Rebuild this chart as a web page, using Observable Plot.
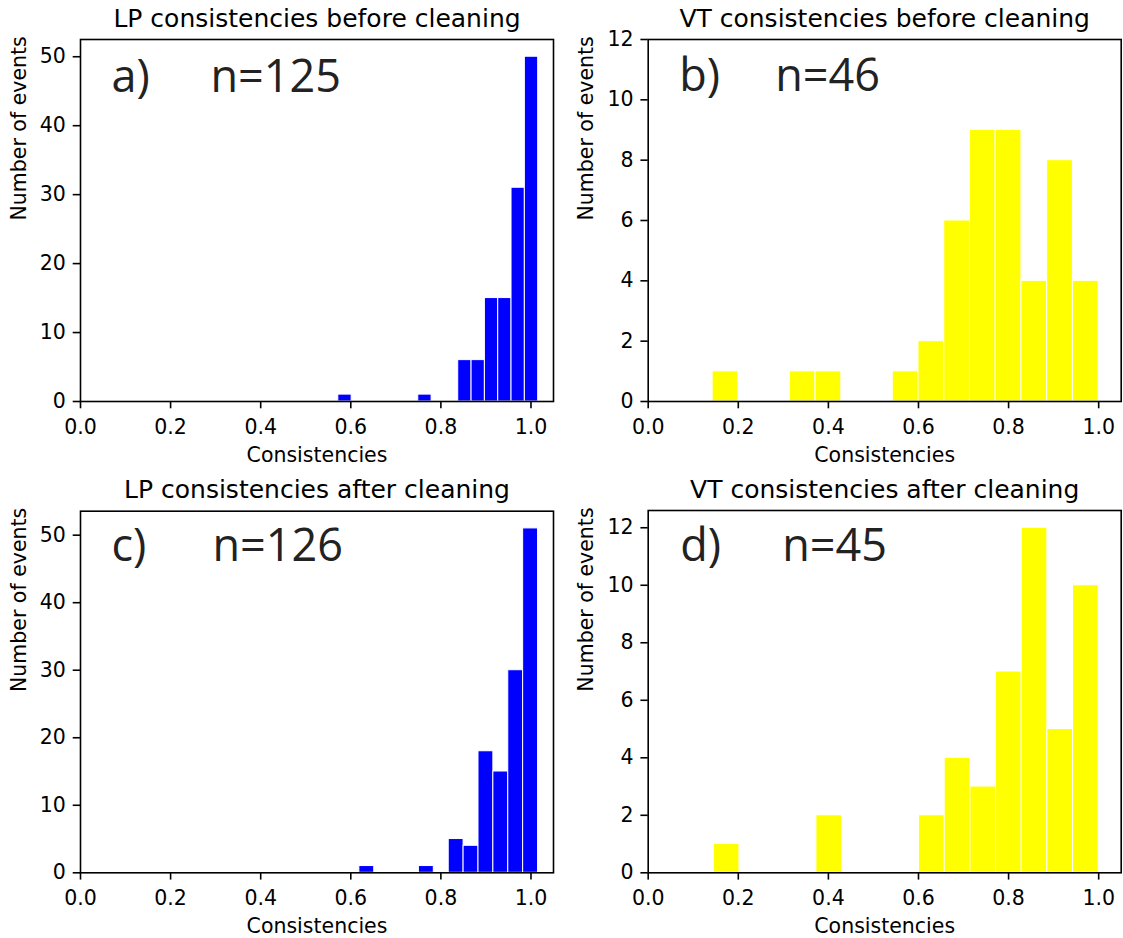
<!DOCTYPE html>
<html>
<head>
<meta charset="utf-8">
<script src="https://cdn.jsdelivr.net/npm/d3@7"></script>
<script src="https://cdn.jsdelivr.net/npm/@observablehq/plot@0.6"></script>
<style>
  html, body { margin: 0; padding: 0; background: white; }
  #wrap { position: relative; width: 1123px; height: 938px; background: white; overflow: hidden; }
  .cell { position: absolute; }
</style>
</head>
<body>
<div id="wrap"></div>
<script>
// ---- Data ----
const xTicks = [0.0, 0.2, 0.4, 0.6, 0.8, 1.0];
const yTicksLP = [0, 10, 20, 30, 40, 50];
const yTicksVT = [0, 2, 4, 6, 8, 10, 12];

// a) LP before cleaning: 15 bins
const lpBeforeEdges = [0.5723, 0.6019, 0.6315, 0.6610, 0.6906, 0.7202, 0.7498, 0.7794, 0.8089, 0.8385, 0.8681, 0.8977, 0.9273, 0.9568, 0.9864, 1.0160];
const lpBeforeCounts = [1, 0, 0, 0, 0, 0, 1, 0, 0, 6, 6, 15, 15, 31, 50];

// b) VT before cleaning: 15 bins
const vtBeforeEdges = [0.1430, 0.2001, 0.2573, 0.3144, 0.3715, 0.4287, 0.4858, 0.5429, 0.6000, 0.6572, 0.7143, 0.7714, 0.8286, 0.8857, 0.9428, 1.0000];
const vtBeforeCounts = [1, 0, 0, 1, 1, 0, 0, 1, 2, 6, 9, 9, 4, 8, 4];

// c) LP after cleaning: 12 bins
const lpAfterEdges = [0.6190, 0.6521, 0.6851, 0.7182, 0.7512, 0.7843, 0.8174, 0.8504, 0.8835, 0.9165, 0.9496, 0.9826, 1.0157];
const lpAfterCounts = [1, 0, 0, 0, 1, 0, 5, 4, 18, 15, 30, 51];

// d) VT after cleaning: 15 bins
const vtAfterEdges = [0.1456, 0.2026, 0.2595, 0.3165, 0.3734, 0.4304, 0.4874, 0.5443, 0.6013, 0.6582, 0.7152, 0.7722, 0.8291, 0.8861, 0.9430, 1.0000];
const vtAfterCounts = [1, 0, 0, 0, 2, 0, 0, 0, 2, 4, 3, 7, 12, 5, 10];

const titles = [
  "LP consistencies before cleaning",
  "VT consistencies before cleaning",
  "LP consistencies after cleaning",
  "VT consistencies after cleaning"
];
const panelLetters = ["a)", "b)", "c)", "d)"];
const panelN = ["n=125", "n=46", "n=126", "n=45"];
const xLabel = "Consistencies";
const yLabel = "Number of events";
const LP_COLOR = "#0000ff";
const VT_COLOR = "#ffff00";

function toBins(edges, counts) {
  return counts.map((c, i) => ({x0: edges[i], x1: edges[i + 1], count: c})).filter(d => d.count > 0);
}

const panels = [
  {left: 0,   top: 0,   width: 561, height: 469, mL: 80,   mR: 8,   mT: 39,   mB: 68,
   edges: lpBeforeEdges, counts: lpBeforeCounts, color: LP_COLOR, yMax: 52.5, yTicks: yTicksLP,
   title: titles[0], letter: panelLetters[0], n: panelN[0], letterDx: 31, nDx: 130, annDy: 52},
  {left: 561, top: 0,   width: 562, height: 469, mL: 86.7, mR: 2.3, mT: 39,   mB: 68,
   edges: vtBeforeEdges, counts: vtBeforeCounts, color: VT_COLOR, yMax: 12, yTicks: yTicksVT,
   title: titles[1], letter: panelLetters[1], n: panelN[1], letterDx: 31, nDx: 127, annDy: 51},
  {left: 0,   top: 469, width: 561, height: 469, mL: 80,   mR: 8,   mT: 41.7, mB: 65.7,
   edges: lpAfterEdges, counts: lpAfterCounts, color: LP_COLOR, yMax: 53.55, yTicks: yTicksLP,
   title: titles[2], letter: panelLetters[2], n: panelN[2], letterDx: 31, nDx: 132, annDy: 50},
  {left: 561, top: 469, width: 562, height: 469, mL: 86.7, mR: 2.3, mT: 41,   mB: 65.7,
   edges: vtAfterEdges, counts: vtAfterCounts, color: VT_COLOR, yMax: 12.6, yTicks: yTicksVT,
   title: titles[3], letter: panelLetters[3], n: panelN[3], letterDx: 32, nDx: 134, annDy: 50}
];

const wrap = document.getElementById("wrap");

for (const p of panels) {
  const bins = toBins(p.edges, p.counts);
  const chart = Plot.plot({
    width: p.width,
    height: p.height,
    marginLeft: p.mL,
    marginRight: p.mR,
    marginTop: p.mT,
    marginBottom: p.mB,
    x: {domain: [0, 1.05]},
    y: {domain: [0, p.yMax]},
    style: {fontFamily: "DejaVu Sans", fontSize: "20.5px", color: "black", background: "white", overflow: "visible"},
    marks: [
      Plot.rect(bins, {x1: "x0", x2: "x1", y1: () => 0, y2: "count", fill: p.color, stroke: "white", strokeWidth: 1}),
      Plot.frame({stroke: "black", strokeWidth: 1.6}),
      Plot.axisX({ticks: xTicks, tickFormat: d => d.toFixed(1), tickSize: 7.3, tickPadding: 10.5, strokeWidth: 1.6, label: null, fill: "black"}),
      Plot.axisY({ticks: p.yTicks, tickFormat: d => String(d), tickSize: 7.3, tickPadding: 7.3, strokeWidth: 1.6, label: null, fill: "black"}),
      // title
      Plot.text([p.title], {text: d => d, frameAnchor: "top", lineAnchor: "bottom", dy: -13, fontSize: 25, fill: "black"}),
      // x label
      Plot.text([xLabel], {text: d => d, frameAnchor: "bottom", lineAnchor: "bottom", dy: 60, fill: "black"}),
      // y label
      Plot.text([yLabel], {text: d => d, frameAnchor: "left", rotate: -90, lineAnchor: "bottom", dx: -55, fill: "black"}),
      // panel annotations
      Plot.text([p.letter], {text: d => d, frameAnchor: "top-left", textAnchor: "start", lineAnchor: "bottom", dx: p.letterDx, dy: p.annDy, fontSize: 45, fontFamily: "Open Sans", fill: "#222"}),
      Plot.text([p.n], {text: d => d, frameAnchor: "top-left", textAnchor: "start", lineAnchor: "bottom", dx: p.nDx, dy: p.annDy, fontSize: 45, fontFamily: "Open Sans", fill: "#222"})
    ]
  });
  const cell = document.createElement("div");
  cell.className = "cell";
  cell.style.left = p.left + "px";
  cell.style.top = p.top + "px";
  cell.appendChild(chart);
  wrap.appendChild(cell);
}
</script>
</body>
</html>
